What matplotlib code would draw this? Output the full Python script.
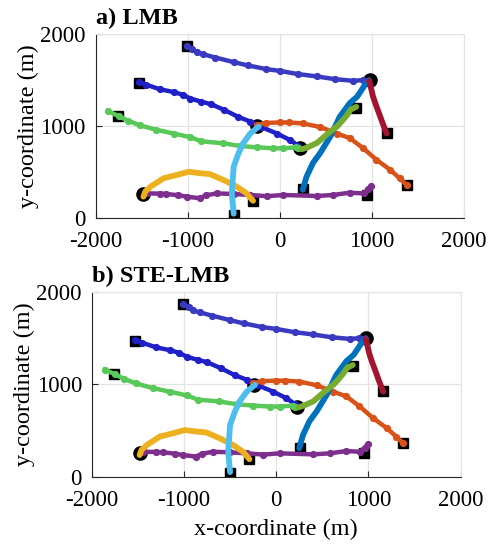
"""Tracking results for LMB and STE-LMB filters (x/y positions in metres)."""
import matplotlib
matplotlib.use("Agg")
import matplotlib.pyplot as plt

plt.rcParams['font.family'] = ['Liberation Serif', 'DejaVu Serif']
plt.rcParams['axes.unicode_minus'] = False

# track estimates (x, y)
track_slate_x = [-1010, -950, -900, -830, -700, -500, -350, -150, 0, 200, 400, 600, 800, 900, 960]
track_slate_y = [1870, 1840, 1800, 1780, 1745, 1695, 1660, 1620, 1600, 1565, 1540, 1510, 1492, 1500, 1495]
track_blue_x = [-1530, -1450, -1300, -1150, -1050, -970, -850, -750, -600, -450, -320, -200, -30, 110, 200]
track_blue_y = [1480, 1450, 1400, 1370, 1340, 1300, 1265, 1240, 1175, 1100, 1050, 990, 920, 850, 790]
track_green_x = [-1860, -1750, -1650, -1520, -1340, -1150, -970, -850, -620, -430, -250, -70, 40, 180, 200]
track_green_y = [1160, 1110, 1060, 1010, 960, 920, 880, 835, 815, 785, 770, 760, 760, 770, 760]
track_olive_x = [240, 300, 400, 500, 560, 620, 680, 730, 770, 830]
track_olive_y = [750, 770, 815, 900, 950, 995, 1060, 1120, 1180, 1210]
track_steel_x = [250, 290, 360, 440, 550, 650, 760, 840, 920, 970]
track_steel_y = [310, 450, 600, 710, 890, 1100, 1250, 1320, 1440, 1500]
track_crimson_x = [970, 980, 1010, 1040, 1070, 1110, 1160]
track_crimson_y = [1490, 1460, 1330, 1240, 1160, 1050, 920]
track_orange_x = [-250, -150, 0, 100, 250, 440, 620, 760, 900, 1050, 1200, 1300, 1380]
track_orange_y = [1010, 1035, 1040, 1040, 1030, 990, 920, 870, 765, 635, 525, 435, 360]
track_sky_x = [-230, -320, -400, -450, -500, -510, -520, -510, -500]
track_sky_y = [995, 920, 810, 700, 560, 420, 270, 160, 50]
track_yellow_x = [-1480, -1460, -1400, -1260, -1120, -990, -870, -760, -610, -470, -360, -290]
track_yellow_y = [235, 290, 345, 435, 470, 505, 490, 480, 415, 345, 270, 190]
track_purple_x = [-1440, -1300, -1230, -1100, -1010, -870, -800, -685, -500, -320, -140, 40, 400, 580, 760, 910, 960, 990]
track_purple_y = [270, 268, 264, 250, 235, 218, 250, 270, 264, 253, 240, 253, 242, 253, 278, 270, 315, 350]

# ground truth end points
square_x = [-1010, -1530, -1760, 830, 255, 1160, 1380, -500, -290, 950]
square_y = [1865, 1470, 1110, 1200, 315, 923, 360, 40, 188, 252]
circle_x = [-245, 225, 978, -1480]
circle_y = [998, 760, 1498, 260]

tracks = [
    (track_slate_x, track_slate_y, '#3a3ac0', True),
    (track_blue_x, track_blue_y, '#2020c8', True),
    (track_green_x, track_green_y, '#58c858', True),
    (track_purple_x, track_purple_y, '#7e2f8e', True),
    (track_orange_x, track_orange_y, '#d95319', True),
    (track_yellow_x, track_yellow_y, '#edb120', False),
    (track_sky_x, track_sky_y, '#4dbeee', False),
    (track_steel_x, track_steel_y, '#0072bd', False),
    (track_olive_x, track_olive_y, '#77ac30', False),
    (track_crimson_x, track_crimson_y, '#a2142f', False),
]

panel_titles = ["a) LMB", "b) STE-LMB"]
x_ticks = [-2000, -1000, 0, 1000, 2000]
y_ticks = [0, 1000, 2000]

fig = plt.figure(figsize=(4.89, 5.46), dpi=100)
ax_top = fig.add_axes([0.1953, 0.6002, 0.7536, 0.3375])
ax_bot = fig.add_axes([0.1875, 0.1269, 0.7546, 0.3383])

for ax, title in zip([ax_top, ax_bot], panel_titles):
    ax.plot(circle_x, circle_y, 'o', color='black', markersize=9.5, zorder=2)
    ax.plot(square_x, square_y, 's', color='black', markersize=6.5, zorder=2)
    for xs, ys, col, dotted in tracks:
        if dotted:
            ax.plot(xs, ys, '-o', color=col, lw=3.2, markersize=4.2, zorder=3)
        else:
            ax.plot(xs, ys, '-', color=col, lw=4.2, solid_capstyle='round', zorder=3)
    ax.set_xlim(-2000, 2000)
    ax.set_ylim(0, 2000)
    ax.set_xticks(x_ticks)
    ax.set_yticks(y_ticks)
    ax.grid(True, color='#e3e3e3', lw=0.9)
    ax.set_axisbelow(True)
    ax.tick_params(direction='in', length=4, labelsize=16.5, color='#262626')
    ax.tick_params(axis='x', pad=9.5)
    ax.tick_params(axis='y', pad=7)
    for side in ['left', 'bottom']:
        ax.spines[side].set_color('#262626')
    for side in ['top', 'right']:
        ax.spines[side].set_color('#e3e3e3')
    ax.set_ylabel("y-coordinate (m)", fontsize=17.5, labelpad=1)
    ax.set_title(title, loc='left', fontsize=17.5, fontweight='bold', pad=7)

ax_bot.set_xlabel("x-coordinate (m)", fontsize=17.5, labelpad=6)

fig.savefig("out.png", dpi=100)
